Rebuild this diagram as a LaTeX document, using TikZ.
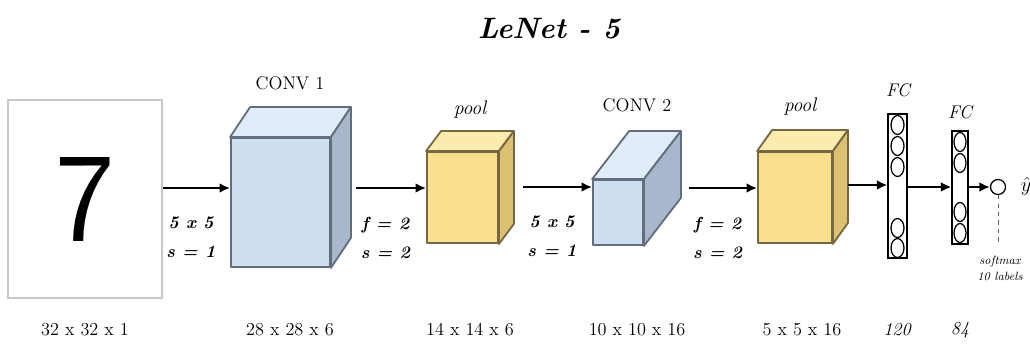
\documentclass[tikz,border=0pt]{standalone}
\usepackage{tikz}
\usetikzlibrary{arrows.meta, positioning}
\definecolor{convfront}{RGB}{206,223,241}
\definecolor{convtop}{RGB}{224,236,248}
\definecolor{convside}{RGB}{168,184,204}
\definecolor{convline}{RGB}{98,110,126}
\definecolor{poolfront}{RGB}{250,223,142}
\definecolor{pooltop}{RGB}{252,235,174}
\definecolor{poolside}{RGB}{219,193,113}
\definecolor{poolline}{RGB}{118,104,64}
\tikzset{
every node/.style={inner sep=0pt}, % text sits tight in its node
arrow/.style={-{Latex[length=7.5pt, width=7pt]}, line width=2pt}, % the black arrows between the layers
layer/.style={draw, line width=1.3pt, line join=round}, % front face of a volume
conv/.style={layer, draw=convline, fill=convfront},
pool/.style={layer, draw=poolline, fill=poolfront},
fc/.style={draw, line width=0.9pt, fill=white},
unit/.style={draw, line width=0.9pt, fill=white}, % one neuron in a FC column
stride/.style={pos=0.42, yshift=-35.2pt, align=center, font=\fontsize{12.5}{20.6}\selectfont\bfseries\itshape},
dim/.style={font=\fontsize{13}{15}\selectfont},
head/.style={font=\fontsize{13}{15}\selectfont},
}
% side and top face of a volume, #1 node, #2/#3 depth, #4 colour prefix
\newcommand{\boxfaces}[4]{%
\filldraw[layer, draw=#4line, fill=#4top] (#1.north west) -- ++(#2,#3) -- ([shift={(#2,#3)}]#1.north east) -- (#1.north east) -- cycle;
\filldraw[layer, draw=#4line, fill=#4side] (#1.north east) -- ++(#2,#3) -- ([shift={(#2,#3)}]#1.south east) -- (#1.south east) -- cycle;
}

\begin{document}
\begin{tikzpicture}[x=0.025cm, y=-0.025cm]
\useasboundingbox (0,0) rectangle (1030,349);

\node[font=\fontsize{21}{26}\selectfont\bfseries\itshape] (title) at (549,29) {LeNet - 5};

% input
\node[draw=black!22, line width=0.8pt, minimum width=3.85cm, minimum height=4.95cm, font=\fontsize{90}{90}\selectfont\sffamily] (in) at (85,199) {7};

% volumes
\node[conv, minimum width=2.475cm, minimum height=3.225cm] (c1) at (280.5,202.5) {};
\boxfaces{c1}{20}{-30}{conv}
\node[pool, minimum width=1.775cm, minimum height=2.275cm] (p1) at (462.5,197.5) {};
\boxfaces{p1}{15}{-20}{pool}
\node[conv, minimum width=1.25cm, minimum height=1.625cm] (c2) at (618,212.5) {};
\boxfaces{c2}{37}{-48}{conv}
\node[pool, minimum width=1.85cm, minimum height=2.275cm] (p2) at (795,197.5) {};
\boxfaces{p2}{15}{-21}{pool}

% fully connected columns
\node[fc, minimum width=0.475cm, minimum height=3.6cm] (f1) at (897.5,186) {};
\foreach \y in {125,146,167,228,248}
  \draw[unit] (897.5,\y) ellipse (6.5 and 9.5);
\node[fc, minimum width=0.4cm, minimum height=2.825cm] (f2) at (960,187.5) {};
\foreach \y in {142,163,212,233}
  \draw[unit] (960,\y) ellipse (6 and 9.5);
\node[unit, circle, minimum size=0.375cm] (out) at (998,187) {};
\node[font=\Large] (yhat) at (1026,186) {$\hat{y}$};

% arrows
\draw[arrow] (in.east |- 0,188) -- node[stride] {5 x 5\\s = 1} (c1.west |- 0,188);
\draw[arrow] (c1.east |- 0,188) ++(25,0) -- node[stride] {f = 2\\s = 2} (p1.west |- 0,188);
\draw[arrow] (p1.east |- 0,187) ++(24,0) -- node[stride] {5 x 5\\s = 1} (c2.west |- 0,187);
\draw[arrow] (c2.east |- 0,188) ++(45,0) -- node[stride] {f = 2\\s = 2} (p2.west |- 0,188);
\draw[arrow] (p2.east |- 0,185) ++(15,0) -- (f1.west |- 0,185);
\draw[arrow] (f1.east |- 0,187) -- (f2.west |- 0,187);
\draw[arrow] (f2.east |- 0,187) -- (out.west);

% softmax
\coordinate (sm) at (998,243);
\draw[dashed, black!60, line width=0.6pt] (out.south) -- (sm);
\node[align=center, font=\fontsize{8.5}{11.5}\selectfont\itshape] (smtext) at (1000,268) {softmax\\10 labels};

% layer names
\node[head] (h1) at (290,83) {CONV 1};
\node[head, font=\fontsize{14}{16}\selectfont\itshape] (h2) at (470,110) {pool};
\node[head] (h3) at (637,105) {CONV 2};
\node[head, font=\fontsize{14}{16}\selectfont\itshape] (h4) at (800,107) {pool};
\node[head, font=\fontsize{13}{15}\selectfont\itshape] (h5) at (898,90) {FC};
\node[head, font=\fontsize{13}{15}\selectfont\itshape] (h6) at (960,112) {FC};

% sizes
\node[dim] (d0) at (85,330) {32 x 32 x 1};
\node[dim] (d1) at (290,330) {28 x 28 x 6};
\node[dim] (d2) at (470,330) {14 x 14 x 6};
\node[dim] (d3) at (637,330) {10 x 10 x 16};
\node[dim] (d4) at (802,330) {5 x 5 x 16};
\node[dim, font=\fontsize{13}{15}\selectfont\itshape] (d5) at (897,330) {120};
\node[dim, font=\fontsize{13}{15}\selectfont\itshape] (d6) at (960,330) {84};
\end{tikzpicture}
\end{document}
